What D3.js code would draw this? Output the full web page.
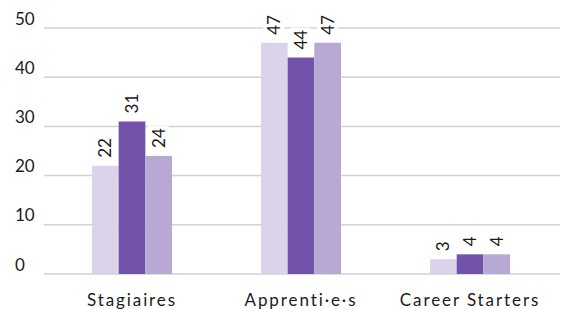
<!DOCTYPE html>
<html><head><meta charset="utf-8">
<script src="https://cdn.jsdelivr.net/npm/d3@7"></script>
<style>body{margin:0;background:#fff}svg{display:block}text{font-family:Lato,"Noto Sans",sans-serif;fill:#1a1a1a}</style>
</head><body><svg id="c" width="567" height="309"></svg>
<script>
const categories = ["Stagiaires", "Apprenti·e·s", "Career Starters"];
const seriesNames = ["S1", "S2", "S3"];
const series1 = [22, 47, 3];
const series2 = [31, 44, 4];
const series3 = [24, 47, 4];
const yTicks = [0, 10, 20, 30, 40, 50];
const colors = ["#dbd3ea", "#7352ab", "#b8a8d4"];

const svg = d3.select("#c");
const y = d3.scaleLinear().domain([0, 50]).range([274, 28]);
const x0 = d3.scaleBand().domain(categories).range([47.5, 554.5]);
const x1 = d3.scaleBand().domain(seriesNames).range([0, 80]);

svg.append("g").selectAll("line").data(yTicks).join("line")
  .attr("x1", 44).attr("x2", 560)
  .attr("y1", d => y(d)).attr("y2", d => y(d))
  .attr("stroke", "#d2d2d2").attr("stroke-width", 1.5);
svg.append("g").selectAll("text").data(yTicks).join("text")
  .attr("x", 15).attr("y", d => y(d) - 3.5)
  .attr("font-size", 17).text(d => d);

const data = [series1, series2, series3];
const g = svg.append("g");
categories.forEach((c, i) => {
  const cx = x0(c) + x0.bandwidth() / 2 - 40;
  seriesNames.forEach((s, j) => {
    const v = data[j][i];
    g.append("rect").attr("x", cx + x1(s)).attr("y", y(v)).attr("width", x1.bandwidth()).attr("height", y(0) - y(v)).attr("fill", colors[j]);
  });
});
categories.forEach((c, i) => {
  const cx = x0(c) + x0.bandwidth() / 2 - 40;
  seriesNames.forEach((s, j) => {
    const v = data[j][i];
    const mx = cx + x1(s) + x1.bandwidth() / 2;
    const ty = y(v) - 8;
    const lg = g.append("g").attr("transform", `translate(${mx},${ty}) rotate(-90)`);
    const t = lg.append("text").attr("x", 0).attr("y", 0).attr("dy", "0.35em").attr("font-size", 17).text(v);
    const bb = t.node().getBBox();
    lg.insert("rect", "text").attr("x", bb.x - 2).attr("y", bb.y).attr("width", bb.width + 4).attr("height", bb.height).attr("fill", "#fff");
  });
});
svg.append("g").selectAll("text").data(categories).join("text")
  .attr("x", d => x0(d) + x0.bandwidth() / 2).attr("y", 306)
  .attr("text-anchor", "middle").attr("font-size", 17).attr("letter-spacing", 1.9).text(d => d);
</script></body></html>
